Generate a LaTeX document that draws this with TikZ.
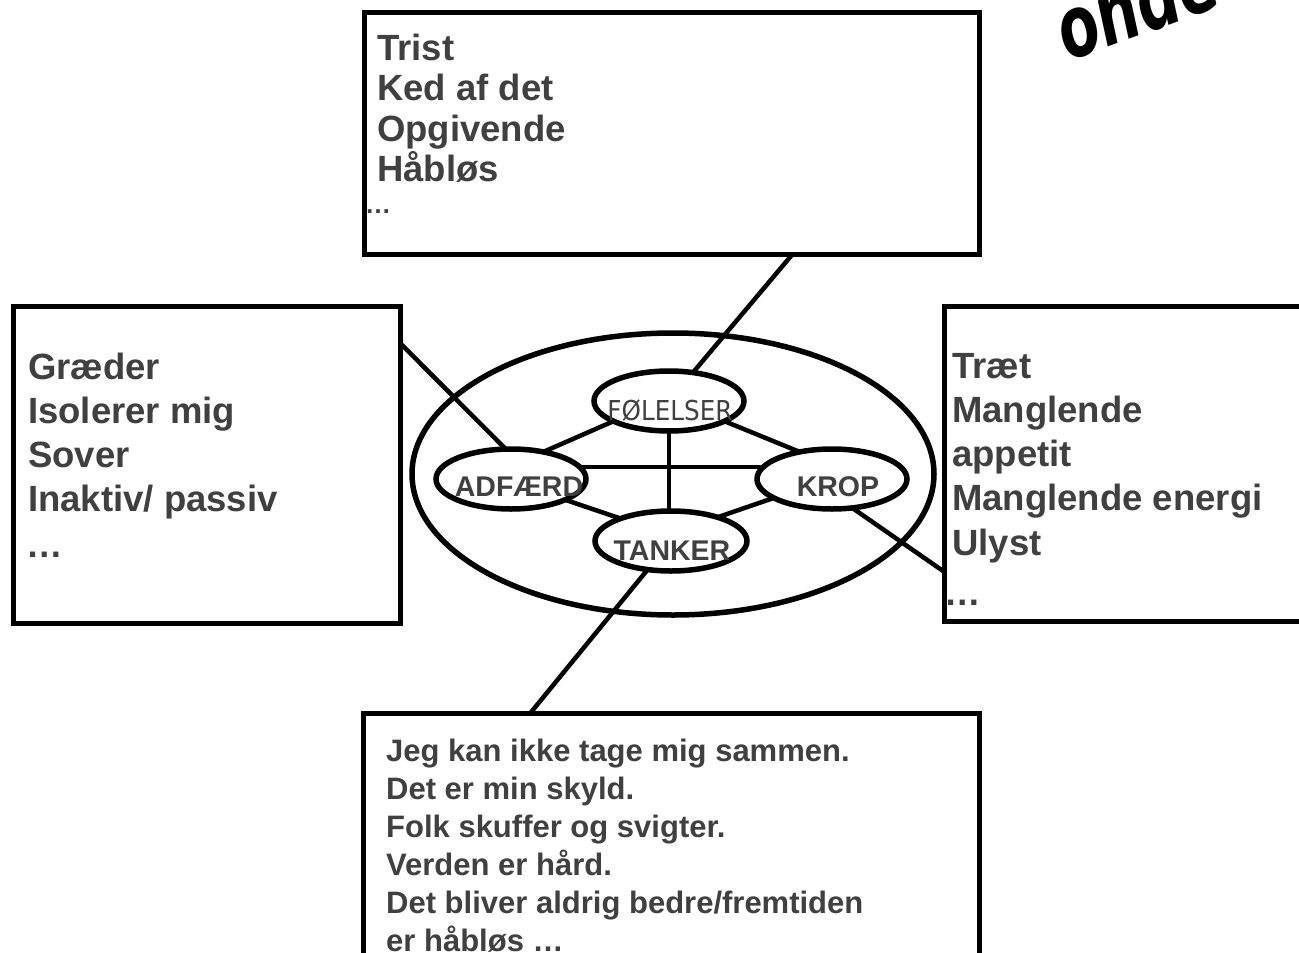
\documentclass[tikz,border=0pt]{standalone}
\usepackage{fontspec}
\setmainfont{Liberation Sans}
\newfontfamily\condfont[FakeStretch=0.9]{DejaVu Sans}
\newfontfamily\ondefont[FakeStretch=0.7]{DejaVu Sans}
\usepackage{tikz}
\usetikzlibrary{positioning, shapes.geometric}
\definecolor{inkgray}{gray}{0.25}

\begin{document}
\begin{tikzpicture}[x=1pt, y=-1pt,
    box/.style={draw, line width=5pt, inner sep=0pt, outer sep=0pt},
    oval/.style={draw, ellipse, line width=5.5pt, inner sep=0pt, outer sep=0pt,
        minimum width=150pt, minimum height=60pt},
    link/.style={line width=4.5pt},
    bigtext/.style={anchor=base west, inner sep=0pt, text=inkgray,
        font=\fontsize{36.5}{40}\selectfont\bfseries},
    smalltext/.style={bigtext, font=\fontsize{31}{38}\selectfont\bfseries},
    ovaltext/.style={anchor=base, inner sep=0pt, text=inkgray,
        font=\fontsize{28.5}{32}\selectfont\bfseries}]
    \useasboundingbox (0,0) rectangle (1299,953);
    \clip (0,0) rectangle (1299,953);

    % the four boxes round the cycle
    \node[box, minimum width=615.5, minimum height=242] (folbox) at (671.75,133.5) {};
    \node[box, minimum width=387, minimum height=317] (adfbox) at (206.5,464.5) {};
    \node[box, minimum width=375.5, minimum height=315] (kropbox) at (1132.25,463.5) {};
    \node[box, minimum width=616, minimum height=286.5] (tanbox) at (671.5,856.75) {};

    % the cycle with its four parts
    \node[oval, minimum width=522, minimum height=282] (ring) at (673,474) {};
    \node[oval] (fol) at (669,401) {};
    \node[oval] (adf) at (511,479) {};
    \node[oval] (krop) at (832,479) {};
    \node[oval, minimum width=152] (tan) at (671,541) {};

    \draw[link] (fol.200) -- (adf.40);
    \draw[link] (fol.340) -- (krop.140);
    \draw[link] (adf.10) -- (krop.170);
    \draw[link] (fol.south) -- (fol.south |- tan.north);
    \draw[link] (adf.339) -- (tan.156);
    \draw[link] (krop.198) -- (tan.27);

    % from the boxes to the parts
    \draw[link] ([xshift=120.5]folbox.south) -- (fol);
    \draw[link] ([yshift=121.5]adfbox.east) -- (adf.100);
    \draw[link] (krop.-55) -- ([yshift=-108.5]kropbox.west);
    \draw[link] (tan) -- ([xshift=-141.5]tanbox.north);

    \node[ovaltext, font=\condfont\fontsize{27.4}{30}\selectfont] (foltxt) at (670,420) {FØLELSER};
    \node[ovaltext] (adftxt) at (519,496) {ADFÆRD};
    \node[ovaltext] (kroptxt) at (838,496) {KROP};
    \node[ovaltext] (tantxt) at (672,560) {TANKER};

    % feelings
    \node[bigtext] (fol1) at (377,60) {Trist};
    \node[bigtext] (fol2) at (377,100.5) {Ked af det};
    \node[bigtext] (fol3) at (377,141) {Opgivende};
    \node[bigtext] (fol4) at (377,181.5) {Håbløs};
    \node[bigtext, font=\fontsize{26}{30}\selectfont\bfseries] (fol5) at (365,213) {…};

    % behaviour
    \node[bigtext] (adf1) at (28,379) {Græder};
    \node[bigtext] (adf2) at (28,423) {Isolerer mig};
    \node[bigtext] (adf3) at (28,467) {Sover};
    \node[bigtext] (adf4) at (28,511) {Inaktiv/ passiv};
    \node[bigtext] (adf5) at (26,557) {…};

    % body
    \node[bigtext] (krop1) at (952,378) {Træt};
    \node[bigtext] (krop2) at (952,422) {Manglende};
    \node[bigtext] (krop3) at (952,466) {appetit};
    \node[bigtext] (krop4) at (952,510) {Manglende energi};
    \node[bigtext] (krop5) at (952,555) {Ulyst};
    \node[bigtext] (krop6) at (944,605) {…};

    % thoughts
    \node[smalltext] (tan1) at (386,761) {Jeg kan ikke tage mig sammen.};
    \node[smalltext] (tan2) at (386,799) {Det er min skyld.};
    \node[smalltext] (tan3) at (386,837) {Folk skuffer og svigter.};
    \node[smalltext] (tan4) at (386,875) {Verden er hård.};
    \node[smalltext] (tan5) at (386,913) {Det bliver aldrig bedre/fremtiden};
    \node[smalltext] (tan6) at (386,951) {er håbløs …};

    \node[anchor=base west, rotate=20, inner sep=0pt,
        font=\ondefont\fontsize{85}{95}\selectfont\bfseries\itshape] (onde) at (1068,62) {onde};
\end{tikzpicture}
\end{document}
